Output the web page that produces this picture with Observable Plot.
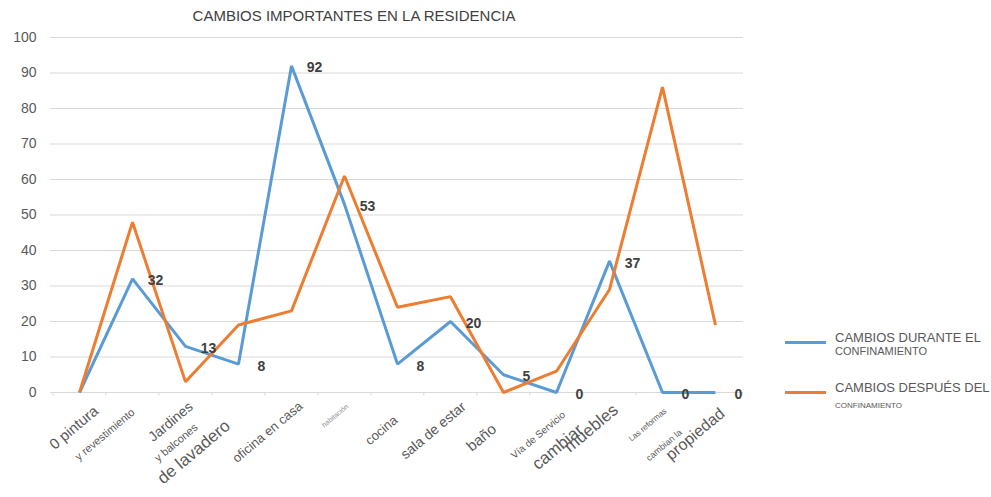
<!DOCTYPE html>
<html>
<head>
<meta charset="utf-8">
<script src="https://cdn.jsdelivr.net/npm/d3@7"></script>
<script src="https://cdn.jsdelivr.net/npm/@observablehq/plot@0.6"></script>
<style>
  html, body { margin: 0; padding: 0; background: #fff; }
  #wrap { position: relative; width: 991px; height: 497px; font-family: "Liberation Sans", Arial, sans-serif; }
  #title { position: absolute; left: 0; width: 708px; top: 7px; text-align: center; font-size: 15px; color: #404040; }
  .leg { position: absolute; left: 785px; }
  .leg .sw { position: absolute; left: 0; width: 41px; height: 3px; }
  .leg .t1 { position: absolute; left: 50px; white-space: nowrap; font-size: 13px; color: #595959; }
  .leg .t2 { position: absolute; left: 50px; white-space: nowrap; color: #595959; }
  #chart { position: absolute; left: 0; top: 0; }
</style>
</head>
<body>
<div id="wrap">
  <div id="chart"></div>
  <div id="title">CAMBIOS IMPORTANTES EN LA RESIDENCIA</div>
  <div id="legend"></div>
</div>
<script>
// ---- data ----
const categories = ["pintura y revestimiento", "Jardines y balcones (1)", "Jardines y balcones", "de lavadero",
  "oficina en casa", "habitación", "cocina", "sala de estar", "baño", "Vía de Servicio",
  "cambiar muebles", "Las reformas cambian la", "propiedad"];
const seriesNames = ["CAMBIOS DURANTE EL CONFINAMIENTO", "CAMBIOS DESPUÉS DEL CONFINAMIENTO"];
const durante = [0, 32, 13, 8, 92, 53, 8, 20, 5, 0, 37, 0, 0];
const despues = [0, 48, 3, 19, 23, 61, 24, 27, 0, 6, 29, 86, 19];
const yTicks = [0, 10, 20, 30, 40, 50, 60, 70, 80, 90, 100];
// x tick label pieces (text, category index)
const labelText = ["0 pintura", "y revestimiento", "Jardines", "y balcones", "de lavadero", "oficina en casa",
  "habitación", "cocina", "sala de estar", "baño", "Vía de Servicio", "cambiar", "muebles",
  "Las reformas", "cambian la", "propiedad"];
const labelCat = [0, 1, 2, 2, 3, 4, 5, 6, 7, 8, 9, 10, 10, 11, 11, 12];
// data labels shown for the blue series
const shownLabels = [1, 2, 3, 4, 5, 6, 7, 8, 9, 10, 11, 12];

// ---- styles (kept apart from data) ----
const colors = ["#5B9BD5", "#ED7D31"];
const labelSize = [15, 11, 14, 11, 17, 13, 7, 13, 14, 15, 10, 17, 17, 8, 9, 16];
const labelDx = [13, -2, 2, 8, -15, 6, 1, -5, 10, -13, 5, -33, 2, 1, 16, 3];
const labelDy = [12, 15, 8, 30, 26, 8, 11, 22, 8, 30, 18, 30, 10, 15, 36, 14];

const rows = [];
categories.forEach((c, i) => {
  rows.push({cat: c, value: durante[i], series: seriesNames[0]});
  rows.push({cat: c, value: despues[i], series: seriesNames[1]});
});
const pieces = labelText.map((t, i) => ({text: t, cat: categories[labelCat[i]], size: labelSize[i], dx: labelDx[i], dy: labelDy[i]}));
const dataLabels = shownLabels.map(i => ({cat: categories[i], value: durante[i]}));

const marks = [
  Plot.ruleY(yTicks, {stroke: "#d9d9d9", strokeWidth: 1}),
  Plot.axisY(yTicks, {tickSize: 0, tickPadding: 14, fontSize: 14, fill: "#595959", label: null}),
  Plot.ruleX(categories, {x: d => d, y1: 0, y2: -1, dx: -26.65, stroke: "#d9d9d9"}),
  Plot.ruleX([categories[categories.length - 1]], {x: d => d, y1: 0, y2: -1, dx: 26.65, stroke: "#d9d9d9"}),
  Plot.line(rows, {x: "cat", y: "value", z: "series", stroke: "series", strokeWidth: 3, strokeLinejoin: "miter", strokeLinecap: "butt"}),
  Plot.text(dataLabels, {x: "cat", y: "value", text: d => String(d.value), dx: 23, dy: 2, fontSize: 14, fontWeight: "bold", fill: "#404040"}),
];
// rotated x tick labels, one mark per piece to allow individual offsets
pieces.forEach(p => {
  marks.push(Plot.text([p], {x: "cat", y: () => 0, text: "text", fontSize: p.size, rotate: -40,
    textAnchor: "end", lineAnchor: "top", dx: p.dx, dy: p.dy,
    fill: p.text === "habitación" ? "#8c8c8c" : "#595959"}));
});

const chart = Plot.plot({
  width: 991,
  height: 497,
  marginLeft: 50,
  marginRight: 248,
  marginTop: 37,
  marginBottom: 105,
  style: {fontFamily: "'Liberation Sans', Arial, sans-serif"},
  x: {type: "point", domain: categories, padding: 0.5, axis: null},
  y: {domain: [0, 100], axis: null},
  color: {domain: seriesNames, range: colors},
  marks
});
document.getElementById("chart").appendChild(chart);

// legend (HTML)
const legend = document.getElementById("legend");
const legTop = [334, 384];
const legSub = [11, 8];
const legSubTop = [11, 17];
seriesNames.forEach((name, i) => {
  const parts = name.split(" CONFINAMIENTO");
  const div = document.createElement("div");
  div.className = "leg";
  div.style.top = legTop[i] + "px";
  div.innerHTML = `<div class="sw" style="background:${colors[i]};top:7px"></div>
    <div class="t1" style="top:-4px">${parts[0]}</div>
    <div class="t2" style="top:${legSubTop[i]}px;font-size:${legSub[i]}px">CONFINAMIENTO</div>`;
  legend.appendChild(div);
});
</script>
</body>
</html>
